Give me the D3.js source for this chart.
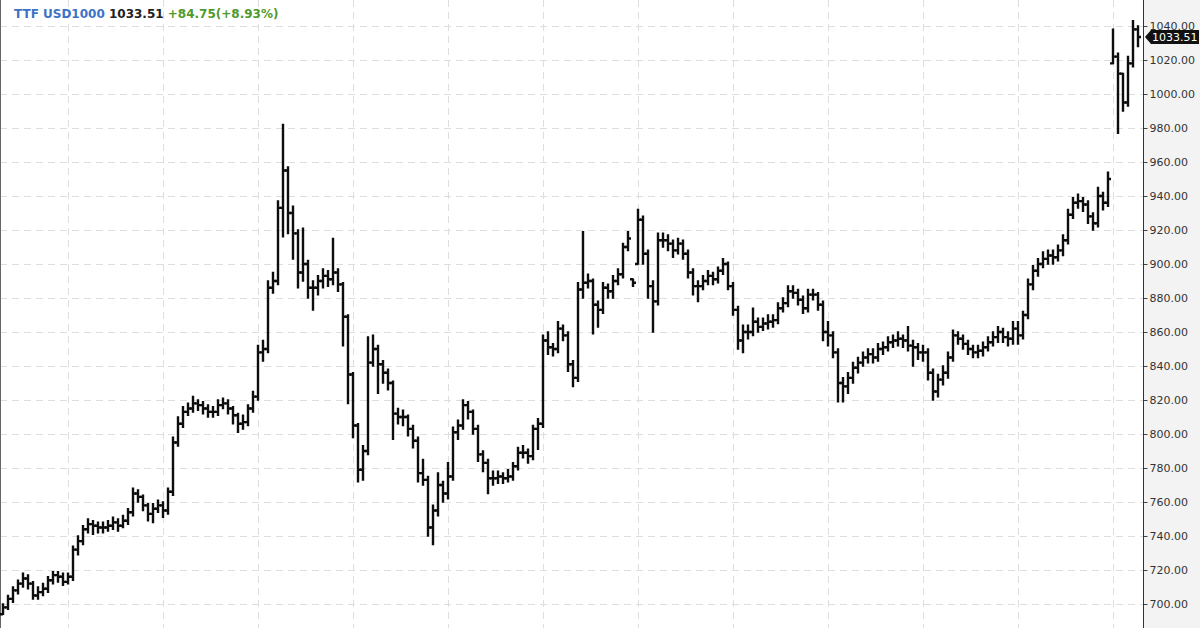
<!DOCTYPE html>
<html><head><meta charset="utf-8">
<script src="https://cdn.jsdelivr.net/npm/d3@7"></script>
<style>html,body{margin:0;padding:0;background:#fff;overflow:hidden}</style>
</head><body><svg id="c" width="1200" height="628"></svg>
<script>
// ---- data ----
const closes=[698,703,708,712,715,712,705,707,709,714,717,716,713,716,
732,737,744,747,746,745,745,746,748,746,749,754,765,763,758,753,756,758,755,766,795,806,
813,815,818,817,815,813,813,817,818,815,811,806,807,815,822,848,850,886,890,933,955,930,918,895,900,886,886,890,893,891,895,888,869,835,805,
779,790,842,850,841,836,830,812,810,810,803,796,777,773,745,755,770,765,775,801,805,817,813,803,788,783,774,774,775,774,775,781,789,789,787,803,806,855,
851,850,862,858,841,833,885,889,890,876,873,886,884,890,894,910,915,889,926,906,887,878,914,914,912,908,912,906,895,887,887,890,893,891,896,900,887,873,855,
860,860,866,863,865,866,867,874,877,884,883,879,874,882,882,876,860,858,848,830,828,833,839,842,845,847,845,850,851,854,855,856,855,852,851,848,848,836,825,832,836,845,858,
856,853,850,848,849,851,854,857,860,857,856,862,858,870,888,896,900,903,905,904,908,914,929,936,937,935,928,924,940,936,950,1022,1012,995,1018,1038,1033.51];
const highs=[700,705,710,714,718,717,713,710,712,716,719,719,718,718,
734,740,746,750,749,748,748,749,751,750,752,756,768,767,764,759,759,761,760,768,798,810,
816,818,822,820,819,817,816,820,821,820,816,812,811,817,825,852,855,890,895,937,982,957,934,920,921,902,890,893,897,896,915,897,889,870,836,
806,793,857,858,852,843,838,831,815,814,811,805,798,785,775,758,777,772,783,804,808,820,819,814,805,790,785,778,778,777,779,783,792,793,791,805,809,858,
860,853,866,864,860,843,889,919,894,891,878,889,888,893,897,912,919,891,932,928,908,890,918,918,917,914,915,914,908,897,890,893,896,895,898,903,901,889,875,
864,864,874,868,868,870,870,877,880,887,887,885,881,885,885,883,878,866,860,850,833,836,842,845,848,850,850,853,854,857,858,860,858,863,855,853,852,850,838,835,840,848,861,
860,858,855,852,852,854,857,860,863,862,860,866,866,872,891,899,903,907,908,908,911,917,932,939,941,939,937,930,945,942,954,1038,1024,1012,1022,1043,1040];
const lows=[694,697,701,706,710,709,703,703,705,707,712,713,711,712,
714,729,735,742,741,742,742,743,744,743,745,747,752,760,755,749,748,754,751,753,764,793,
804,811,813,814,812,810,810,811,815,812,806,801,803,805,813,820,843,848,883,888,916,918,903,886,890,880,873,882,886,887,888,884,852,818,798,
772,773,788,840,824,830,826,797,806,805,799,792,772,770,740,735,752,760,762,773,797,803,809,800,784,778,765,770,771,771,772,773,779,786,783,785,791,804,
847,846,848,855,837,828,831,880,886,859,863,871,880,880,888,892,908,887,900,900,880,860,876,910,908,904,906,903,892,882,878,885,888,888,889,894,885,870,850,
848,856,858,860,861,862,863,865,872,875,880,876,871,872,879,873,855,852,845,819,819,824,830,836,840,842,842,843,847,849,851,852,851,849,840,844,843,832,820,822,829,833,843,
853,850,847,845,845,846,849,852,854,854,852,853,853,856,868,885,893,898,900,900,902,905,912,927,933,931,924,920,922,932,934,1018,977,990,993,1016,1028];
const yTicks=[700,720,740,760,780,800,820,840,860,880,900,920,940,960,980,1000,1020,1040];
const gridBars=[13,32,51,70,89,108,127,146,165,184,203,222];
const symbolText="TTF USD1000", lastText="1033.51", changeText="+84.75(+8.93%)";
const lastValue=1033.51;

// ---- drawing ----
const W=1200,H=628,plotRight=1143;
const svg=d3.select("#c");
const x=d3.scaleLinear().domain([0,closes.length-1]).range([3,1138]);
const y=d3.scaleLinear().domain([700,1040]).range([604,26]);

svg.append("rect").attr("x",0).attr("y",0).attr("width",W).attr("height",H).attr("fill","#fff");
svg.append("rect").attr("x",plotRight).attr("y",0).attr("width",W-plotRight).attr("height",H).attr("fill","#f3f3f3");

const grid=svg.append("g").attr("stroke","#dedede").attr("stroke-width",1).attr("stroke-dasharray","7,5");
grid.selectAll("line.h").data(yTicks).join("line").attr("class","h")
  .attr("x1",0).attr("x2",plotRight).attr("y1",d=>Math.round(y(d))+0.5).attr("y2",d=>Math.round(y(d))+0.5);
grid.selectAll("line.v").data(gridBars).join("line").attr("class","v")
  .attr("y1",0).attr("y2",H).attr("x1",d=>Math.round(x(d))+0.5).attr("x2",d=>Math.round(x(d))+0.5);

// left border
svg.append("line").attr("x1",0.5).attr("x2",0.5).attr("y1",0).attr("y2",H).attr("stroke","#666");

// OHLC bars
const bars=svg.append("g").attr("stroke","#0d0d0d").attr("stroke-width",2.4).attr("fill","none");
const clamp=(v,lo,hi)=>Math.max(lo,Math.min(hi,v));
bars.selectAll("path").data(closes).join("path").attr("d",(c,i)=>{
  const xi=x(i), o=clamp(i===0?lows[0]:closes[i-1],lows[i],highs[i]);
  return `M${xi},${y(lows[i])+0.8}V${y(highs[i])-0.8}`+
         `M${xi-3},${y(o)}H${xi}M${xi},${y(c)}H${xi+3}`;
});

// right axis
const ax=svg.append("g").attr("transform",`translate(${plotRight+0.5},0)`)
  .call(d3.axisRight(y).tickValues(yTicks).tickFormat(d3.format(".2f")).tickSize(4).tickPadding(2));
ax.select(".domain").remove();
ax.selectAll(".tick line").attr("stroke","#444");
ax.selectAll(".tick text").attr("fill","#333").style("font-family","DejaVu Sans").style("font-size","11px");
svg.append("line").attr("x1",plotRight+0.5).attr("x2",plotRight+0.5).attr("y1",0).attr("y2",H).attr("stroke","#333");

// current price marker
const yl=y(lastValue);
svg.append("path").attr("d",`M${plotRight+2},${yl}L${plotRight+8},${yl-7}H1199V${yl+7}H${plotRight+8}Z`).attr("fill","#111");
svg.append("text").attr("x",plotRight+9).attr("y",yl+4).attr("fill","#fff")
  .style("font-family","DejaVu Sans").style("font-size","11px").text(lastText);

// header
const t=svg.append("text").attr("x",14).attr("y",18).style("font-family","DejaVu Sans").style("font-size","12px").style("font-weight","bold");
t.append("tspan").attr("fill","#3d72c6").text(symbolText+" ");
t.append("tspan").attr("fill","#222").text(lastText+" ");
t.append("tspan").attr("fill","#4f9a2c").text(changeText);
</script></body></html>
